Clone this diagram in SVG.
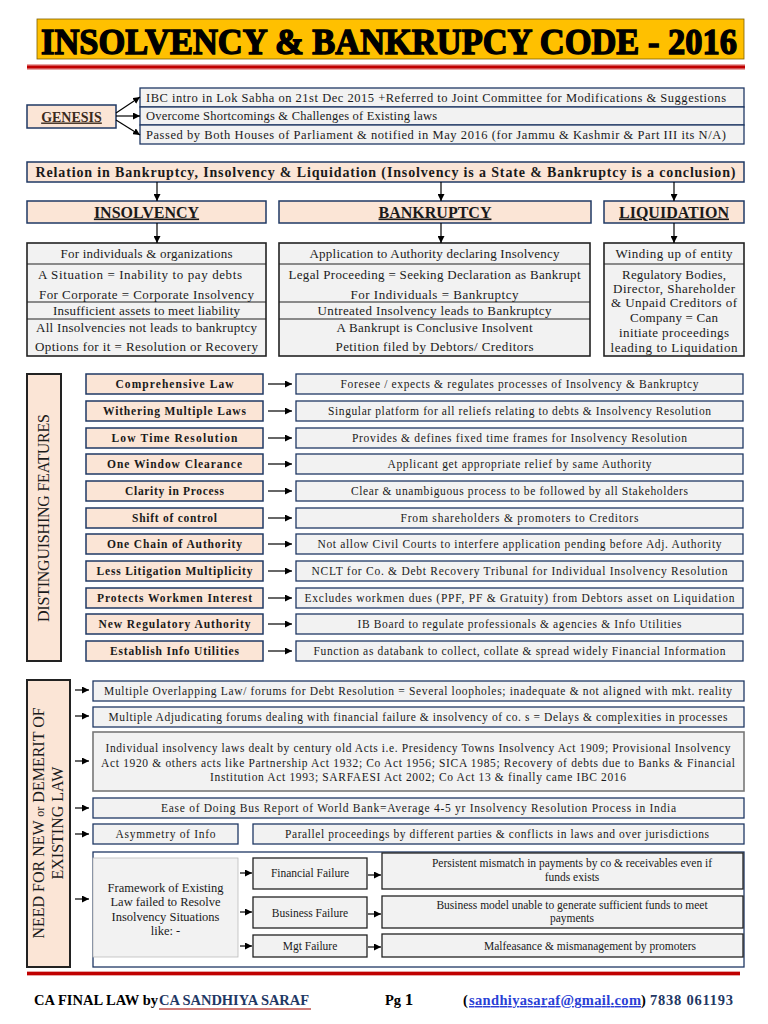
<svg xmlns="http://www.w3.org/2000/svg" width="768" height="1024" viewBox="0 0 768 1024">
<style>
text{font-family:"Liberation Serif","Times New Roman",serif;fill:#1a1a1a}
.b{font-size:13px}
.s{font-size:11.5px}
.m{font-size:12.5px}
.c{text-anchor:middle}
.bd{font-weight:bold}
.peach{fill:#fbe5d6;stroke:#1f3864;stroke-width:1.5}
.gray{fill:#f2f2f2;stroke:#1f3864;stroke-width:1.3}
.grayk{fill:#f2f2f2;stroke:#222;stroke-width:1.3}
.ln{stroke:#222;stroke-width:1.2;fill:none}
.ar{stroke:#000;stroke-width:1.2;fill:none;marker-end:url(#ah)}
.hd{font-size:16px;text-anchor:middle;text-decoration:underline;font-weight:600}
</style>
<defs>
<marker id="ah" viewBox="0 0 10 10" refX="10" refY="5" markerWidth="7" markerHeight="7" markerUnits="userSpaceOnUse" orient="auto"><path d="M0,0 L10,5 L0,10 z" fill="#000"/></marker>
</defs>
<rect width="768" height="1024" fill="#fff"/>

<!-- Title -->
<g id="title">
<rect x="37" y="19" width="707" height="40" fill="#ffc000" stroke="#7f6000" stroke-width="0.8"/>
<text x="41" y="54" font-size="36" font-weight="bold" textLength="696" lengthAdjust="spacingAndGlyphs" style="fill:#000;stroke:#000;stroke-width:1.4">INSOLVENCY &amp; BANKRUPCY CODE - 2016</text>
<rect x="27" y="64" width="718" height="6" fill="#e8a5a5"/>
<rect x="27" y="65.5" width="718" height="3" fill="#c00000"/>
</g>

<!-- Genesis -->
<g id="genesis">
<rect x="27" y="105" width="89" height="23" class="peach" stroke-width="2"/>
<text x="71.5" y="121.5" class="c bd" font-size="14" text-decoration="underline" style="fill:#3a2a1c">GENESIS</text>
</g>
<g id="genesis-rows">
<rect x="140" y="88" width="604" height="19" class="gray"/>
<text x="146" y="101.5" class="m" textLength="580">IBC intro in Lok Sabha on 21st Dec 2015 +Referred to Joint Committee for Modifications &amp; Suggestions</text>
<rect x="140" y="107" width="604" height="18" class="gray"/>
<text x="146" y="120" class="m" textLength="291">Overcome Shortcomings &amp; Challenges of Existing laws</text>
<rect x="140" y="125" width="604" height="19" class="gray"/>
<text x="146" y="138.5" class="m" textLength="580">Passed by Both Houses of Parliament &amp; notified in May 2016 (for Jammu &amp; Kashmir &amp; Part III its N/A)</text>
</g>

<!-- Relation -->
<g id="relation">
<rect x="27" y="162" width="717" height="20" class="peach"/>
<text x="385.5" y="177" class="c bd" font-size="14" textLength="700">Relation in Bankruptcy, Insolvency &amp; Liquidation (Insolvency is a State &amp; Bankruptcy is a conclusion)</text>
</g>
<g id="hdr-insolvency">
<rect x="27" y="201" width="239" height="22" class="peach"/>
<text x="146.5" y="217.5" class="hd">INSOLVENCY</text>
</g>
<g id="hdr-bankruptcy">
<rect x="279" y="201" width="312" height="22" class="peach"/>
<text x="435" y="217.5" class="hd">BANKRUPTCY</text>
</g>
<g id="hdr-liquidation">
<rect x="604" y="201" width="140" height="22" class="peach"/>
<text x="674" y="217.5" class="hd">LIQUIDATION</text>
</g>

<g id="body-insolvency">
<rect x="27" y="243" width="239" height="113" fill="#f2f2f2" stroke="#222" stroke-width="1.6"/>
<line x1="27" y1="264" x2="266" y2="264" class="ln"/>
<line x1="27" y1="302" x2="266" y2="302" class="ln"/>
<line x1="27" y1="319" x2="266" y2="319" class="ln"/>
<text x="146.5" y="257.5" class="b c" textLength="172">For individuals &amp; organizations</text>
<text x="140" y="278.5" class="b c" textLength="204">A Situation = Inability to pay debts</text>
<text x="146.5" y="299" class="b c" textLength="215">For Corporate = Corporate Insolvency</text>
<text x="146.5" y="315" class="b c" textLength="187">Insufficient assets to meet liability</text>
<text x="146.5" y="332" class="b c" textLength="221">All Insolvencies not leads to bankruptcy</text>
<text x="146.5" y="351" class="b c" textLength="223">Options for it = Resolution or Recovery</text>
</g>
<g id="body-bankruptcy">
<rect x="279" y="243" width="311" height="113" fill="#f2f2f2" stroke="#222" stroke-width="1.6"/>
<line x1="279" y1="264" x2="590" y2="264" class="ln"/>
<line x1="279" y1="302" x2="590" y2="302" class="ln"/>
<line x1="279" y1="319" x2="590" y2="319" class="ln"/>
<text x="434.5" y="257.5" class="b c" textLength="250">Application to Authority declaring Insolvency</text>
<text x="434.5" y="278.5" class="b c" textLength="292">Legal Proceeding = Seeking Declaration as Bankrupt</text>
<text x="434.5" y="299" class="b c" textLength="168">For Individuals = Bankruptcy</text>
<text x="434.5" y="315" class="b c" textLength="234">Untreated Insolvency leads to Bankruptcy</text>
<text x="434.5" y="332" class="b c" textLength="196">A Bankrupt is Conclusive Insolvent</text>
<text x="434.5" y="351" class="b c" textLength="198">Petition filed by Debtors/ Creditors</text>
</g>
<g id="body-liquidation">
<rect x="604" y="243" width="140" height="113" fill="#f2f2f2" stroke="#222" stroke-width="1.6"/>
<line x1="604" y1="264" x2="744" y2="264" class="ln"/>
<text x="674" y="257.5" class="b c" textLength="117">Winding up of entity</text>
<text x="674" y="278.5" class="b c" textLength="104">Regulatory Bodies,</text>
<text x="674" y="292.5" class="b c" textLength="122">Director, Shareholder</text>
<text x="674" y="307" class="b c" textLength="126">&amp; Unpaid Creditors of</text>
<text x="674" y="322" class="b c" textLength="88">Company = Can</text>
<text x="674" y="337" class="b c" textLength="110">initiate proceedings</text>
<text x="674" y="351.5" class="b c" textLength="127">leading to Liquidation</text>
</g>

<!-- Distinguishing features -->
<g id="features-title">
<rect x="27" y="374" width="34" height="287" fill="#fbe5d6" stroke="#222" stroke-width="2"/>
<text transform="translate(49,518) rotate(-90)" class="c" font-size="16" textLength="208">DISTINGUISHING FEATURES</text>
</g>
<g id="f1"><rect x="86" y="374" width="177" height="20" class="peach"/><text x="174.5" y="388" class="s c bd" textLength="118">Comprehensive Law</text>
<rect x="296" y="374" width="447" height="20" class="gray"/><text x="519.5" y="388" class="s c" textLength="358">Foresee / expects &amp; regulates processes of Insolvency &amp; Bankruptcy</text></g>
<g id="f2"><rect x="86" y="401" width="177" height="20" class="peach"/><text x="174.5" y="415" class="s c bd" textLength="143">Withering Multiple Laws</text>
<rect x="296" y="401" width="447" height="20" class="gray"/><text x="519.5" y="415" class="s c" textLength="383">Singular platform for all reliefs relating to debts &amp; Insolvency Resolution</text></g>
<g id="f3"><rect x="86" y="428" width="177" height="20" class="peach"/><text x="174.5" y="442" class="s c bd" textLength="126">Low Time Resolution</text>
<rect x="296" y="428" width="447" height="20" class="gray"/><text x="519.5" y="442" class="s c" textLength="335">Provides &amp; defines fixed time frames for Insolvency Resolution</text></g>
<g id="f4"><rect x="86" y="454" width="177" height="20" class="peach"/><text x="174.5" y="468" class="s c bd" textLength="135">One Window Clearance</text>
<rect x="296" y="454" width="447" height="20" class="gray"/><text x="519.5" y="468" class="s c" textLength="264">Applicant get appropriate relief by same Authority</text></g>
<g id="f5"><rect x="86" y="481" width="177" height="20" class="peach"/><text x="174.5" y="495" class="s c bd" textLength="99">Clarity in Process</text>
<rect x="296" y="481" width="447" height="20" class="gray"/><text x="519.5" y="495" class="s c" textLength="337">Clear &amp; unambiguous process to be followed by all Stakeholders</text></g>
<g id="f6"><rect x="86" y="508" width="177" height="20" class="peach"/><text x="174.5" y="522" class="s c bd" textLength="85">Shift of control</text>
<rect x="296" y="508" width="447" height="20" class="gray"/><text x="519.5" y="522" class="s c" textLength="238">From shareholders &amp; promoters to Creditors</text></g>
<g id="f7"><rect x="86" y="534" width="177" height="20" class="peach"/><text x="174.5" y="548" class="s c bd" textLength="135">One Chain of Authority</text>
<rect x="296" y="534" width="447" height="20" class="gray"/><text x="519.5" y="548" class="s c" textLength="404">Not allow Civil Courts to interfere application pending before Adj. Authority</text></g>
<g id="f8"><rect x="86" y="561" width="177" height="20" class="peach"/><text x="174.5" y="575" class="s c bd" textLength="156">Less Litigation Multiplicity</text>
<rect x="296" y="561" width="447" height="20" class="gray"/><text x="519.5" y="575" class="s c" textLength="416">NCLT for Co. &amp; Debt Recovery Tribunal for Individual Insolvency Resolution</text></g>
<g id="f9"><rect x="86" y="588" width="177" height="20" class="peach"/><text x="174.5" y="602" class="s c bd" textLength="155">Protects Workmen Interest</text>
<rect x="296" y="588" width="447" height="20" class="gray"/><text x="519.5" y="602" class="s c" textLength="430">Excludes workmen dues (PPF, PF &amp; Gratuity) from Debtors asset on Liquidation</text></g>
<g id="f10"><rect x="86" y="614" width="177" height="20" class="peach"/><text x="174.5" y="628" class="s c bd" textLength="152">New Regulatory Authority</text>
<rect x="296" y="614" width="447" height="20" class="gray"/><text x="519.5" y="628" class="s c" textLength="324">IB Board to regulate professionals &amp; agencies &amp; Info Utilities</text></g>
<g id="f11"><rect x="86" y="641" width="177" height="20" class="peach"/><text x="174.5" y="655" class="s c bd" textLength="129">Establish Info Utilities</text>
<rect x="296" y="641" width="447" height="20" class="gray"/><text x="519.5" y="655" class="s c" textLength="412">Function as databank to collect, collate &amp; spread widely Financial Information</text></g>

<!-- Need section -->
<g id="need-title">
<rect x="27" y="680" width="43" height="287" fill="#fbe5d6" stroke="#222" stroke-width="2"/>
<text transform="translate(44,823) rotate(-90)" class="c" font-size="16">NEED FOR NEW <tspan font-size="12">or</tspan> DEMERIT OF</text>
<text transform="translate(63,823) rotate(-90)" class="c" font-size="16">EXISTING LAW</text>
</g>
<g id="n1"><rect x="93" y="681" width="651" height="20" class="gray"/>
<text x="418" y="695" class="s c" textLength="628">Multiple Overlapping Law/ forums for Debt Resolution = Several loopholes; inadequate &amp; not aligned with mkt. reality</text></g>
<g id="n2"><rect x="93" y="707" width="651" height="20" class="gray"/>
<text x="418" y="721" class="s c" textLength="619">Multiple Adjudicating forums dealing with financial failure &amp; insolvency of co. s = Delays &amp; complexities in processes</text></g>
<g id="n3"><rect x="93" y="732" width="651" height="59" fill="#f2f2f2" stroke="#777" stroke-width="1.6"/>
<text x="418" y="752" class="s c" textLength="625">Individual insolvency laws dealt by century old Acts i.e. Presidency Towns Insolvency Act 1909; Provisional Insolvency</text>
<text x="418" y="767" class="s c" textLength="634">Act 1920 &amp; others acts like Partnership Act 1932; Co Act 1956; SICA 1985; Recovery of debts due to Banks &amp; Financial</text>
<text x="418" y="781" class="s c" textLength="416">Institution Act 1993; SARFAESI Act 2002; Co Act 13 &amp; finally came IBC 2016</text></g>
<g id="n4"><rect x="93" y="798" width="651" height="20" class="gray"/>
<text x="418.5" y="812" class="s c" textLength="515">Ease of Doing Bus Report of World Bank=Average 4-5 yr Insolvency Resolution Process in India</text></g>
<g id="n5a"><rect x="93" y="824" width="145" height="20" class="gray"/>
<text x="165.5" y="838" class="s c" textLength="100">Asymmetry of Info</text></g>
<g id="n5b"><rect x="253" y="824" width="491" height="20" class="gray"/>
<text x="497" y="838" class="s c" textLength="424">Parallel proceedings by different parties &amp; conflicts in laws and over jurisdictions</text></g>
<g id="n6"><rect x="93" y="852" width="651" height="115" fill="#fff" stroke="#1f3864" stroke-width="1.3"/></g>
<g id="framework"><rect x="93" y="858" width="145" height="99" fill="#f2f2f2" stroke="#bbb" stroke-width="0.8"/>
<text x="165.5" y="892" class="m c">Framework of Existing</text>
<text x="165.5" y="906" class="m c">Law failed to Resolve</text>
<text x="165.5" y="921" class="m c">Insolvency Situations</text>
<text x="165.5" y="935" class="m c">like: -</text></g>
<g id="fin-failure"><rect x="253" y="858" width="114" height="31" class="grayk"/>
<text x="310" y="877" class="s c">Financial Failure</text></g>
<g id="bus-failure"><rect x="253" y="897" width="114" height="31" class="grayk"/>
<text x="310" y="917" class="s c">Business Failure</text></g>
<g id="mgt-failure"><rect x="253" y="935" width="114" height="22" class="grayk"/>
<text x="310" y="950" class="s c">Mgt Failure</text></g>
<g id="fin-desc"><rect x="382" y="853" width="361" height="36" class="grayk"/>
<text x="572" y="867" class="s c">Persistent mismatch in payments by co &amp; receivables even if</text>
<text x="572" y="881" class="s c">funds exists</text></g>
<g id="bus-desc"><rect x="382" y="896" width="361" height="32" class="grayk"/>
<text x="572" y="909" class="s c">Business model unable to generate sufficient funds to meet</text>
<text x="572" y="922" class="s c">payments</text></g>
<g id="mgt-desc"><rect x="382" y="934" width="361" height="23" class="grayk"/>
<text x="590" y="950" class="s c">Malfeasance &amp; mismanagement by promoters</text></g>

<!-- Connectors -->
<g id="connectors">
<line x1="116" y1="113" x2="140" y2="97" class="ar"/>
<line x1="116" y1="116" x2="140" y2="116" class="ar"/>
<line x1="116" y1="120" x2="140" y2="135" class="ar"/>
<line x1="157" y1="182" x2="157" y2="201" class="ar"/>
<line x1="441" y1="182" x2="441" y2="201" class="ar"/>
<line x1="674" y1="182" x2="674" y2="201" class="ar"/>
<line x1="157" y1="223" x2="157" y2="243" class="ar"/>
<line x1="441" y1="223" x2="441" y2="243" class="ar"/>
<line x1="674" y1="223" x2="674" y2="243" class="ar"/>
<line x1="268" y1="384" x2="292" y2="384" class="ar"/>
<line x1="268" y1="411" x2="292" y2="411" class="ar"/>
<line x1="268" y1="438" x2="292" y2="438" class="ar"/>
<line x1="268" y1="464" x2="292" y2="464" class="ar"/>
<line x1="268" y1="491" x2="292" y2="491" class="ar"/>
<line x1="268" y1="518" x2="292" y2="518" class="ar"/>
<line x1="268" y1="544" x2="292" y2="544" class="ar"/>
<line x1="268" y1="571" x2="292" y2="571" class="ar"/>
<line x1="268" y1="598" x2="292" y2="598" class="ar"/>
<line x1="268" y1="624" x2="292" y2="624" class="ar"/>
<line x1="268" y1="651" x2="292" y2="651" class="ar"/>
<line x1="75" y1="690" x2="89" y2="690" class="ar"/>
<line x1="75" y1="716" x2="89" y2="716" class="ar"/>
<line x1="75" y1="761" x2="89" y2="761" class="ar"/>
<line x1="75" y1="808" x2="89" y2="808" class="ar"/>
<line x1="75" y1="834" x2="89" y2="834" class="ar"/>
<line x1="75" y1="899" x2="89" y2="899" class="ar"/>
<line x1="240" y1="873" x2="252" y2="873" class="ar"/>
<line x1="240" y1="912" x2="252" y2="912" class="ar"/>
<line x1="240" y1="946" x2="252" y2="946" class="ar"/>
<line x1="368" y1="875" x2="381" y2="875" class="ar"/>
<line x1="368" y1="914" x2="381" y2="914" class="ar"/>
<line x1="368" y1="947" x2="381" y2="947" class="ar"/>
</g>

<!-- Footer -->
<g id="footer">
<rect x="27" y="971" width="713" height="5" fill="#e8a5a5"/>
<rect x="27" y="972" width="713" height="3" fill="#c00000"/>
<text x="34" y="1005" font-size="14.5" font-weight="bold" textLength="124" style="fill:#000">CA FINAL LAW by</text>
<text x="159" y="1005" font-size="14.5" font-weight="bold" textLength="150" style="fill:#1f3864">CA SANDHIYA SARAF</text>
<line x1="159" y1="1009" x2="311" y2="1009" stroke="#c0504d" stroke-width="1.5"/>
<text x="385" y="1005" font-size="14.5" font-weight="bold" style="fill:#000">Pg <tspan font-size="17">1</tspan></text>
<text x="463" y="1005" font-size="14.5" font-weight="bold" style="fill:#000">(</text>
<text x="469" y="1005" font-size="14.5" font-weight="bold" textLength="172" text-decoration="underline" style="fill:#2a3fd6">sandhiyasaraf@gmail.com</text>
<text x="641" y="1005" font-size="14.5" font-weight="bold" style="fill:#000">)</text>
<text x="650" y="1005" font-size="14.5" font-weight="bold" textLength="83" style="fill:#1f3864">7838 061193</text>
</g>
</svg>
